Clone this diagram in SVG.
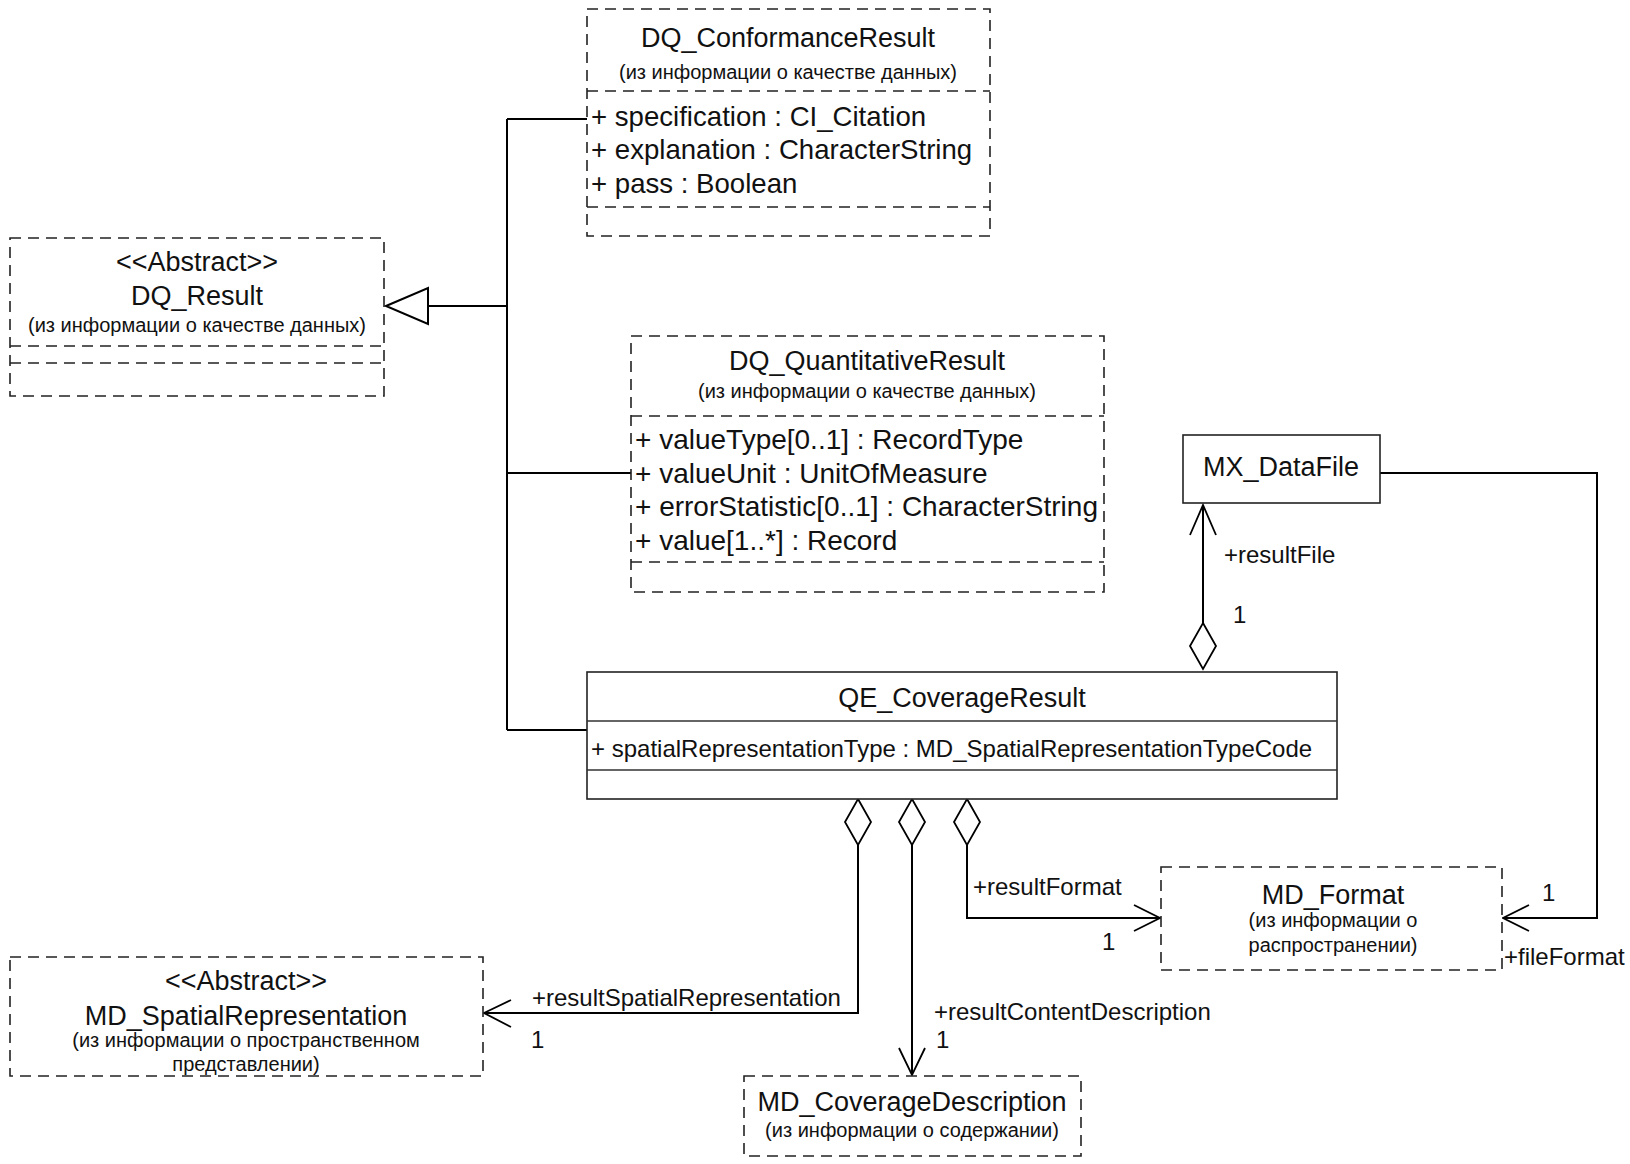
<svg xmlns="http://www.w3.org/2000/svg" width="1630" height="1164" viewBox="0 0 1630 1164">
<style>
text{font-family:"Liberation Sans",Arial,sans-serif;fill:#111}
.t{font-size:27px;text-anchor:middle}
.s{font-size:20px;text-anchor:middle}
.a{font-size:27.6px}
.aq{font-size:28px}
.a2{font-size:24px}
.l{font-size:24px}
.dash{fill:#fff;stroke:#222;stroke-width:1.6;stroke-dasharray:11 7}
.dl{fill:none;stroke:#222;stroke-width:1.6;stroke-dasharray:11 7}
.solid{fill:#fff;stroke:#222;stroke-width:1.6}
.sl{fill:none;stroke:#333;stroke-width:1.4}
.c{fill:none;stroke:#000;stroke-width:2}
.dia{fill:#fff;stroke:#000;stroke-width:1.8}
.arr{fill:none;stroke:#000;stroke-width:1.8}
</style>
<rect width="1630" height="1164" fill="#fff"/>

<g id="connectors">
<path class="c" d="M507,119 V730 M507,119 H587 M507,473 H631 M507,730 H587 M428,306 H507"/>
<polygon points="386,306 428,288 428,324" fill="#fff" stroke="#000" stroke-width="2"/>
<path class="c" d="M1203,505 V623"/>
<polygon class="dia" points="1203,623 1216,646 1203,669 1190,646"/>
<path class="arr" d="M1190,535 L1203,505 L1216,535"/>
<path class="c" stroke-width="1.6" d="M1380,473 H1597 V918 H1503"/>
<path class="arr" d="M1529,905 L1503,918 L1529,931"/>
<polygon class="dia" points="858,799 871,822 858,845 845,822"/>
<path class="c" d="M858,845 V1013 H484"/>
<path class="arr" d="M511,1000 L484,1013 L511,1027"/>
<polygon class="dia" points="912,799 925,822 912,845 899,822"/>
<path class="c" stroke-width="2.6" d="M912,845 V1075"/>
<path class="arr" d="M899,1048 L912,1075 L925,1048"/>
<polygon class="dia" points="967,799 980,822 967,845 954,822"/>
<path class="c" stroke="#444" stroke-width="1.6" d="M967,845 V918 H1160"/>
<path class="arr" d="M1134,905 L1160,918 L1134,931"/>
<text class="l" x="1224" y="563">+resultFile</text>
<text class="l" x="1233" y="623">1</text>
<text class="l" x="1542" y="901">1</text>
<text class="l" x="1504" y="965">+fileFormat</text>
<text class="l" x="532" y="1006">+resultSpatialRepresentation</text>
<text class="l" x="531" y="1048">1</text>
<text class="l" x="934" y="1020">+resultContentDescription</text>
<text class="l" x="936" y="1048">1</text>
<text class="l" x="973" y="895">+resultFormat</text>
<text class="l" x="1102" y="950">1</text>
</g>

<g id="DQ_ConformanceResult">
<rect class="dash" x="587" y="9" width="403" height="227"/>
<path class="dl" d="M587,91 H990 M587,207 H990"/>
<text class="t" x="788" y="47">DQ_ConformanceResult</text>
<text class="s" x="788" y="79">(из информации о качестве данных)</text>
<text class="a" x="591" y="126">+ specification : CI_Citation</text>
<text class="a" x="591" y="159">+ explanation : CharacterString</text>
<text class="a" x="591" y="193">+ pass : Boolean</text>
</g>

<g id="DQ_Result">
<rect class="dash" x="10" y="238" width="374" height="158"/>
<path class="dl" d="M10,346 H384 M10,363 H384"/>
<text class="t" x="197" y="271">&lt;&lt;Abstract&gt;&gt;</text>
<text class="t" x="197" y="305">DQ_Result</text>
<text class="s" x="197" y="332">(из информации о качестве данных)</text>
</g>

<g id="DQ_QuantitativeResult">
<rect class="dash" x="631" y="336" width="473" height="256"/>
<path class="dl" d="M631,416 H1104 M631,562 H1104"/>
<text class="t" x="867" y="370">DQ_QuantitativeResult</text>
<text class="s" x="867" y="398">(из информации о качестве данных)</text>
<text class="aq" x="635" y="449">+ valueType[0..1] : RecordType</text>
<text class="aq" x="635" y="483">+ valueUnit : UnitOfMeasure</text>
<text class="aq" x="635" y="516">+ errorStatistic[0..1] : CharacterString</text>
<text class="aq" x="635" y="550">+ value[1..*] : Record</text>
</g>

<g id="MX_DataFile">
<rect class="solid" x="1183" y="435" width="197" height="68"/>
<text class="t" x="1281" y="476">MX_DataFile</text>
</g>

<g id="QE_CoverageResult">
<rect class="solid" x="587" y="672" width="750" height="127"/>
<path class="sl" d="M587,721 H1337 M587,770 H1337"/>
<text class="t" x="962" y="707">QE_CoverageResult</text>
<text class="a2" x="591" y="757">+ spatialRepresentationType : MD_SpatialRepresentationTypeCode</text>
</g>

<g id="MD_Format">
<rect class="dash" x="1161" y="867" width="341" height="103"/>
<text class="t" x="1333" y="904">MD_Format</text>
<text class="s" x="1333" y="927">(из информации о</text>
<text class="s" x="1333" y="952">распространении)</text>
</g>

<g id="MD_SpatialRepresentation">
<rect class="dash" x="10" y="957" width="473" height="119"/>
<text class="t" x="246" y="990">&lt;&lt;Abstract&gt;&gt;</text>
<text class="t" x="246" y="1025">MD_SpatialRepresentation</text>
<text class="s" x="246" y="1047">(из информации о пространственном</text>
<text class="s" x="246" y="1071">представлении)</text>
</g>

<g id="MD_CoverageDescription">
<rect class="dash" x="744" y="1076" width="337" height="80"/>
<text class="t" x="912" y="1111">MD_CoverageDescription</text>
<text class="s" x="912" y="1137">(из информации о содержании)</text>
</g>
</svg>
